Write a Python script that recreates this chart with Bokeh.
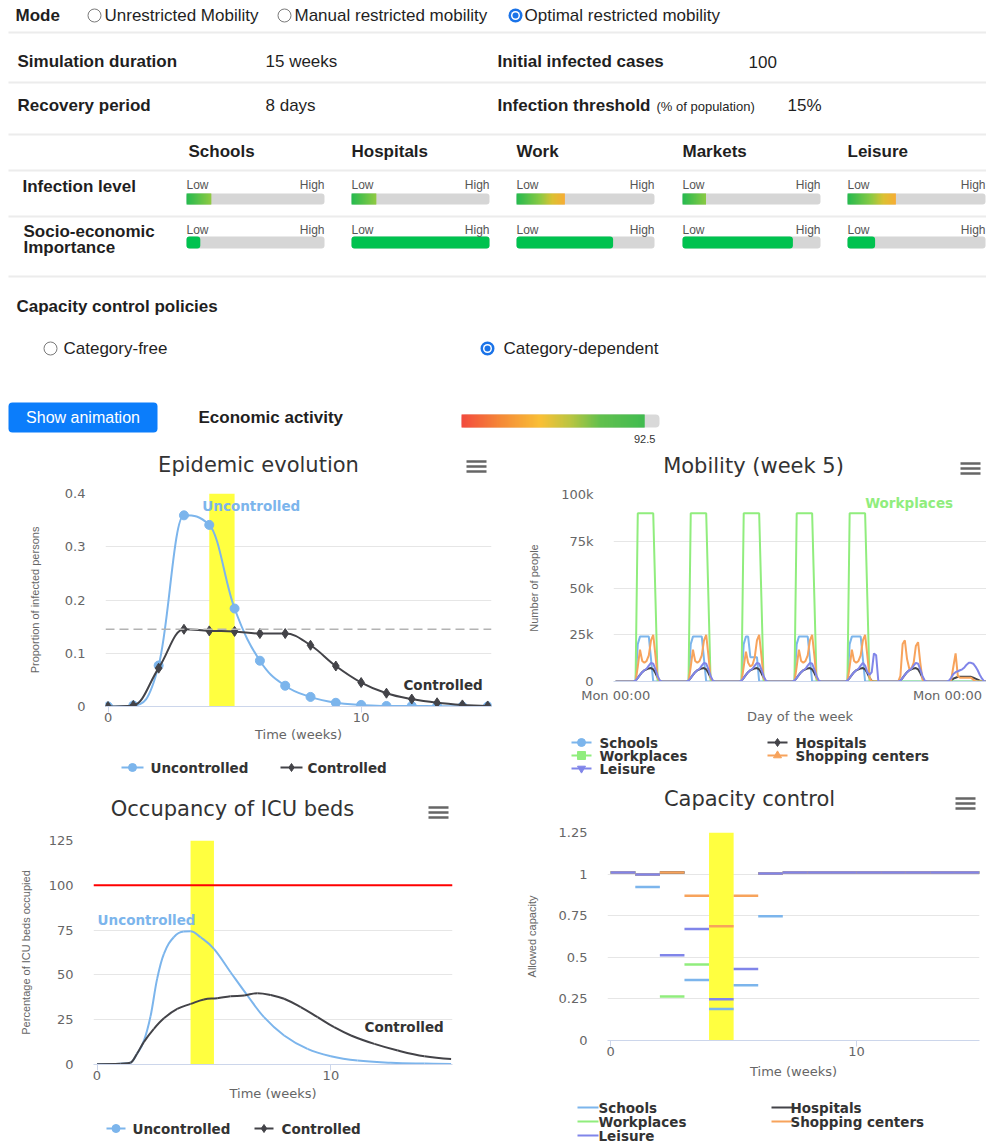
import numpy as np
from bokeh.plotting import figure
from bokeh.models import (Range1d, FixedTicker, BoxAnnotation, Span, ColumnDataSource)
from bokeh.layouts import column, row
from bokeh.embed import file_html
from bokeh.resources import INLINE
from bokeh.core.properties import value

# ======================= DATA =======================
mode_labels = ["Unrestricted Mobility", "Manual restricted mobility", "Optimal restricted mobility"]
mode_selected = 2
setting_labels = ["Simulation duration", "Initial infected cases", "Recovery period", "Infection threshold"]
setting_values = ["15 weeks", "100", "8 days", "15%"]
threshold_note = "(% of population)"
categories = ["Schools", "Hospitals", "Work", "Markets", "Leisure"]
row_labels = ["Infection level", "Socio-economic", "Importance"]
infection_level = [0.18, 0.18, 0.35, 0.17, 0.35]
socio_economic_importance = [0.10, 1.00, 0.70, 0.80, 0.20]
policy_title = "Capacity control policies"
policy_labels = ["Category-free", "Category-dependent"]
policy_selected = 1
button_label = "Show animation"
economic_label = "Economic activity"
economic_activity = 92.5

current_week = 5
infection_threshold = 0.145
icu_capacity = 100

# Epidemic evolution (weekly)
weeks = list(range(16))
infected_uncontrolled = [0, 0.002, 0.077, 0.359, 0.341, 0.184, 0.086, 0.039, 0.018, 0.007,
                         0.003, 0.001, 0.001, 0.0005, 0.0003, 0.0002]
infected_controlled = [0, 0.002, 0.072, 0.145, 0.142, 0.141, 0.137, 0.137, 0.115, 0.076,
                       0.045, 0.025, 0.014, 0.007, 0.003, 0.001]
week_x_ticks = [0, 10]
week_x_labels = ["0", "10"]
epi_y_ticks = [0, 0.1, 0.2, 0.3, 0.4]
epi_y_labels = ["0", "0.1", "0.2", "0.3", "0.4"]

# ICU occupancy (%)
icu_unc_weeks = [0, 1.0, 1.43, 1.71, 2.0, 2.29, 2.57, 2.86, 3.28, 3.71, 4.0, 4.43, 5.0,
                 5.71, 6.43, 7.14, 8.0, 9.0, 10.0, 11.14, 12.57, 14.0, 15.14]
icu_uncontrolled = [0.2, 0.4, 1.0, 6.0, 13.0, 27.0, 47.8, 61.8, 71.0, 74.2, 74.4, 71.0, 64.5,
                    51.5, 38.5, 26.4, 16.2, 8.7, 4.6, 2.2, 1.0, 0.5, 0.3]
icu_con_weeks = [0, 1.0, 1.43, 1.71, 2.0, 2.43, 2.86, 3.43, 4.0, 4.57, 5.14, 5.71, 6.29,
                 6.86, 7.43, 8.0, 8.71, 9.43, 10.14, 10.86, 11.86, 12.86, 14.0, 15.14]
icu_controlled = [0.2, 0.4, 1.0, 6.0, 12.5, 19.9, 25.8, 31.0, 33.8, 36.3, 37.0, 38.1, 38.5,
                  39.8, 38.8, 36.7, 32.0, 26.4, 20.8, 16.2, 11.5, 7.8, 4.6, 3.1]
icu_y_ticks = [0, 25, 50, 75, 100, 125]
icu_y_labels = ["0", "25", "50", "75", "100", "125"]

# Mobility week 5 (hourly, Mon 00:00 .. next Mon 00:00)
sch_weekday = [0, 0, 0, 0, 0, 0, 0, 0, 0, 0, 20000, 24000, 24000, 24000, 24000, 24000, 12000,
               0, 0, 0, 0, 0, 0, 0]
sch_wed = [0, 0, 0, 0, 0, 0, 0, 0, 0, 0, 20000, 24000, 24000, 13000, 13000, 13000, 13000,
           0, 0, 0, 0, 0, 0, 0]
sch_weekend = [0] * 24
work_weekday = [0, 0, 0, 0, 0, 0, 0, 0, 0, 0, 90000, 90000, 90000, 90000, 90000, 90000, 90000,
                90000, 45000, 0, 0, 0, 0, 0]
work_weekend = [0] * 24
shop_weekday = [0, 0, 0, 0, 0, 0, 0, 0, 0, 0, 8000, 17000, 11000, 10000, 11000, 14000, 22000,
                25000, 14000, 2000, 0, 0, 0, 0]
shop_wed = [0, 0, 0, 0, 0, 0, 0, 0, 0, 0, 8000, 16000, 10000, 8000, 9000, 13000, 22000,
            25000, 14000, 2000, 0, 0, 0, 0]
shop_sat = [0, 0, 0, 0, 0, 0, 0, 0, 0, 3000, 20000, 22000, 12000, 7000, 7000, 10000, 19000,
            21000, 10000, 1000, 0, 0, 0, 0]
shop_sun = [0, 0, 0, 0, 0, 0, 0, 0, 1000, 8000, 15000, 3000, 2000, 2000, 2000, 2000, 2000,
            2000, 1000, 0, 0, 0, 0, 0]
hosp_weekday = [0, 0, 0, 0, 0, 0, 0, 0, 0, 500, 2000, 3500, 5000, 6000, 6500, 7000, 7200,
                6500, 4500, 2000, 300, 0, 0, 0]
hosp_sun = [0, 0, 0, 0, 0, 0, 0, 0, 500, 1500, 2000, 2500, 2500, 2500, 2500, 2500, 2500,
            2500, 2000, 1500, 1000, 500, 0, 0]
leis_weekday = [0, 0, 0, 0, 0, 0, 0, 0, 0, 500, 2000, 3500, 5000, 6000, 6800, 8500, 10000,
                9500, 6500, 3000, 500, 0, 0, 0]
leis_fri = [0, 0, 0, 0, 0, 0, 0, 0, 0, 500, 2000, 3500, 5000, 6000, 6800, 8500, 10000,
            8500, 5000, 3500, 5000, 15000, 14000, 0]
leis_sun = [0, 0, 0, 0, 0, 0, 0, 500, 2000, 4000, 5000, 5500, 6000, 6500, 7500, 9000, 10000,
            10000, 9500, 8000, 6000, 3500, 1500, 0]

mob_schools = sch_weekday + sch_weekday + sch_wed + sch_weekday + sch_weekday + sch_weekend + sch_weekend + [0]
mob_hospitals = hosp_weekday * 5 + hosp_weekday + hosp_sun + [0]
mob_workplaces = work_weekday * 5 + work_weekend + work_weekend + [0]
mob_shopping = shop_weekday + shop_weekday + shop_wed + shop_weekday + shop_weekday + shop_sat + shop_sun + [0]
mob_leisure = leis_weekday * 4 + leis_fri + leis_weekday + leis_sun + [0]
mob_hours = list(range(len(mob_schools)))
mob_x_ticks = [0, 168]
mob_x_labels = ["Mon 00:00", "Mon 00:00"]
mob_y_ticks = [0, 25000, 50000, 75000, 100000]
mob_y_labels = ["0", "25k", "50k", "75k", "100k"]

# Capacity control (weekly allowed capacity; nan = not visible in the chart)
nan = float("nan")
cap_weeks = list(range(15))
cap_schools = [1.01, 0.922, 1.01, 0.364, 0.19, 0.332, 0.746, 1.01, 1.01, 1.01, 1.01, 1.01, 1.01, 1.01, 1.01]
cap_hospitals = [1.01, 0.997, 1.01, nan, nan, nan, 1.003, 1.01, 1.01, 1.01, 1.01, 1.01, 1.01, 1.01, 1.01]
cap_workplaces = [1.01, 0.997, 0.264, 0.456, nan, nan, 1.003, 1.01, 1.01, 1.01, 1.01, 1.01, 1.01, 1.01, 1.01]
cap_shopping = [1.01, 0.997, 1.01, 0.87, 0.686, 0.87, 1.003, 1.01, 1.01, 1.01, 1.01, 1.01, 1.01, 1.01, 1.01]
cap_leisure = [1.01, 0.997, 0.512, 0.67, 0.248, 0.43, 1.003, 1.01, 1.01, 1.01, 1.01, 1.01, 1.01, 1.01, 1.01]
cap_y_ticks = [0, 0.25, 0.5, 0.75, 1, 1.25]
cap_y_labels = ["0", "0.25", "0.5", "0.75", "1", "1.25"]

series_names = ["Schools", "Hospitals", "Workplaces", "Shopping centers", "Leisure"]
series_colors = ["#7cb5ec", "#434348", "#90ed7d", "#f7a35c", "#8085e9"]
series_markers = ["circle", "diamond", "square", "triangle", "inverted_triangle"]
outcome_names = ["Uncontrolled", "Controlled"]
outcome_colors = ["#7cb5ec", "#434348"]
outcome_markers = ["circle", "diamond"]

# ======================= HELPERS =======================
HFONT = "Liberation Sans"
CFONT = "DejaVu Sans"
BAND = "#ffff40"


def hex2rgb(h):
    h = h.lstrip("#")
    return tuple(int(h[i:i + 2], 16) for i in (0, 2, 4))


def grad_color(stops, t):
    for (t0, c0), (t1, c1) in zip(stops[:-1], stops[1:]):
        if t <= t1:
            f = 0 if t1 == t0 else (t - t0) / (t1 - t0)
            a, b = hex2rgb(c0), hex2rgb(c1)
            return "#%02x%02x%02x" % tuple(int(round(a[i] + (b[i] - a[i]) * f)) for i in range(3))
    return stops[-1][1]


def rquad(p, radius=0, **kw):
    try:
        return p.quad(border_radius=radius, **kw)
    except Exception:
        return p.quad(**kw)


def spline_segments(xs, ys, smoothing=1.5):
    n = len(xs)
    lc, rc = [], []
    for i in range(n):
        x, y = xs[i], ys[i]
        if i == 0 or i == n - 1:
            lc.append((x, y)); rc.append((x, y)); continue
        lx, ly, nx, ny = xs[i - 1], ys[i - 1], xs[i + 1], ys[i + 1]
        d = smoothing + 1
        lcx, lcy = (smoothing * x + lx) / d, (smoothing * y + ly) / d
        rcx, rcy = (smoothing * x + nx) / d, (smoothing * y + ny) / d
        if rcx != lcx:
            corr = (rcy - lcy) * (rcx - x) / (rcx - lcx) + y - rcy
            lcy += corr; rcy += corr
        if lcy > ly and lcy > y:
            lcy = max(ly, y); rcy = 2 * y - lcy
        elif lcy < ly and lcy < y:
            lcy = min(ly, y); rcy = 2 * y - lcy
        if rcy > ny and rcy > y:
            rcy = max(ny, y); lcy = 2 * y - rcy
        elif rcy < ny and rcy < y:
            rcy = min(ny, y); lcy = 2 * y - rcy
        lc.append((lcx, lcy)); rc.append((rcx, rcy))
    return dict(x0=xs[:-1], y0=ys[:-1], x1=xs[1:], y1=ys[1:],
                cx0=[c[0] for c in rc[:-1]], cy0=[c[1] for c in rc[:-1]],
                cx1=[c[0] for c in lc[1:]], cy1=[c[1] for c in lc[1:]])


def pix_fig(x0, y0, w, h):
    """A figure whose data coordinates are page pixels (y downwards)."""
    p = figure(width=w, height=h, x_range=Range1d(x0, x0 + w), y_range=Range1d(y0 + h, y0),
               output_backend="svg", toolbar_location=None, min_border=0,
               x_axis_location=None, y_axis_location=None)
    p.grid.visible = False
    p.outline_line_color = None
    return p


def ptext(p, xs, ys, texts, size="17px", bold=False, color="#1f1f1f", align="left", font=HFONT):
    p.text(x=xs, y=ys, text=texts, text_font=value(font), text_font_size=size,
           text_font_style="bold" if bold else "normal", text_color=color,
           text_align=align, text_baseline="middle")


# ======================= HEADER =======================
hdr = pix_fig(0, 0, 986, 450)


def radios(xs, ys, sel):
    un = [i for i in range(len(xs)) if i != sel]
    hdr.scatter([xs[i] for i in un], [ys[i] for i in un], size=13, marker="circle",
                fill_color="white", line_color="#7a7a7a", line_width=1)
    hdr.scatter([xs[sel]], [ys[sel]], size=14, fill_color="#1a73e8", line_color=None)
    hdr.scatter([xs[sel]], [ys[sel]], size=9, fill_color="white", line_color=None)
    hdr.scatter([xs[sel]], [ys[sel]], size=6, fill_color="#1a73e8", line_color=None)


rule_y = [32, 82, 134, 170, 216, 276]
hdr.segment(x0=[8] * len(rule_y), x1=[986] * len(rule_y), y0=rule_y, y1=rule_y,
            line_color="#ececec", line_width=2)

ptext(hdr, [15], [15], ["Mode"], bold=True)
radios([94, 284, 515], [15, 15, 15], mode_selected)
ptext(hdr, [104, 294, 524], [15, 15, 15], mode_labels)

ptext(hdr, [17, 497, 17, 497], [61, 61, 105, 105], setting_labels, bold=True)
ptext(hdr, [265, 748, 265, 787], [61, 61, 105, 105], setting_values)
ptext(hdr, [656], [106], [threshold_note], size="13px")

col_x = [188, 351, 516, 682, 847]
ptext(hdr, col_x, [151] * 5, categories, bold=True)
ptext(hdr, [22, 23, 23], [186, 231, 247], row_labels, bold=True)

bar_x0 = [186, 351, 516, 682, 847]
bar_w = 138
inf_stops = [(0.0, "#1bb848"), (0.17, "#86c93c"), (0.26, "#dcc02a"), (0.35, "#f9aa2c"), (1.0, "#f44336")]
for row_i, (vals, top, bot, lowy) in enumerate([(infection_level, 193, 204, 184),
                                               (socio_economic_importance, 236, 248, 229)]):
    rquad(hdr, 3, left=bar_x0, right=[x + bar_w for x in bar_x0], top=[top] * 5, bottom=[bot] * 5,
          fill_color="#d6d6d6", line_color=None)
    for x0, v in zip(bar_x0, vals):
        fill_px = v * bar_w
        if row_i == 0:
            k = np.arange(0, fill_px, 1.0)
            lefts = x0 + k
            rights = np.minimum(lefts + 1.4, x0 + fill_px)
            cols = [grad_color(inf_stops, (kk + 0.5) / bar_w) for kk in k]
            hdr.quad(left=lefts, right=rights, top=top, bottom=bot, fill_color=cols, line_color=None)
        else:
            rquad(hdr, 3, left=[x0], right=[x0 + fill_px], top=[top], bottom=[bot],
                  fill_color="#00c24f", line_color=None)
    ptext(hdr, bar_x0, [lowy] * 5, ["Low"] * 5, size="12px", color="#555555")
    ptext(hdr, [x + bar_w for x in bar_x0], [lowy] * 5, ["High"] * 5, size="12px", color="#555555", align="right")

ptext(hdr, [16], [306], [policy_title], bold=True)
radios([50, 487], [348, 348], policy_selected)
ptext(hdr, [63, 503], [348, 348], policy_labels)

rquad(hdr, 4, left=[8], right=[157], top=[402], bottom=[432], fill_color="#0b7dfb", line_color=None)
ptext(hdr, [82.5], [417], [button_label], size="16px", color="white", align="center")
ptext(hdr, [198], [417], [economic_label], bold=True)

eco_x0, eco_w = 461, 198
eco_stops = [(0.0, "#f44336"), (0.2, "#f7862f"), (0.4, "#fbbf2e"), (0.55, "#b8c43a"),
             (0.7, "#5cbf47"), (1.0, "#2db84a")]
rquad(hdr, 4, left=[eco_x0], right=[eco_x0 + eco_w], top=[414], bottom=[427],
      fill_color="#d9d9d9", line_color=None)
eco_fill = economic_activity / 100 * eco_w
k = np.arange(0, eco_fill, 1.0)
hdr.quad(left=eco_x0 + k, right=np.minimum(eco_x0 + k + 1.4, eco_x0 + eco_fill), top=414, bottom=427,
         fill_color=[grad_color(eco_stops, (kk + 0.5) / eco_w) for kk in k], line_color=None)
ptext(hdr, [eco_x0 + eco_fill], [438], [f"{economic_activity}"], size="11px", color="#333333", align="center")


# ======================= CHART HELPERS =======================
def make_chart(fig_x, fig_y, width, height, frame, xr, yr):
    l, r, t, b = frame
    p = figure(width=width, height=height, x_range=Range1d(*xr), y_range=Range1d(*yr),
               output_backend="svg", toolbar_location=None,
               min_border_left=int(round(l - fig_x)), min_border_right=int(round(fig_x + width - r)),
               min_border_top=int(round(t - fig_y)), min_border_bottom=int(round(fig_y + height - b)))
    p.outline_line_color = None
    p.xgrid.grid_line_color = None
    p.ygrid.grid_line_color = "#e6e6e6"
    return p


def style_axes(p, xt, xl, yt, yl, xlabel, ylabel, ylab_standoff, xlab_standoff, x_anchor=None):
    ty = FixedTicker(ticks=yt)
    p.yaxis.ticker = ty
    p.ygrid.ticker = ty
    p.yaxis.major_label_overrides = {v: s for v, s in zip(yt, yl)}
    anchors = xt if x_anchor is None else x_anchor
    p.xaxis.ticker = FixedTicker(ticks=anchors)
    p.xaxis.major_label_overrides = {v: s for v, s in zip(anchors, xl)}
    for ax in (p.xaxis, p.yaxis):
        ax.major_label_text_font = CFONT
        ax.major_label_text_font_size = "13px"
        ax.major_label_text_color = "#666666"
        ax.minor_tick_line_color = None
        ax.axis_label_text_font_style = "normal"
        ax.axis_label_text_color = "#666666"
    p.yaxis.axis_line_color = None
    p.yaxis.major_tick_line_color = None
    p.yaxis.major_tick_out = 0
    p.yaxis.major_tick_in = 0
    p.yaxis.major_label_standoff = 20
    p.yaxis.axis_label = ylabel
    p.yaxis.axis_label_text_font = HFONT
    p.yaxis.axis_label_text_font_size = "11px"
    p.yaxis.axis_label_standoff = ylab_standoff
    p.xaxis.axis_line_color = "#ccd6eb"
    p.xaxis.major_tick_line_color = "#ccd6eb" if x_anchor is None else None
    p.xaxis.major_tick_out = 6
    p.xaxis.major_tick_in = 0
    p.xaxis.major_label_standoff = 0
    p.xaxis.axis_label = xlabel
    p.xaxis.axis_label_text_font = CFONT
    p.xaxis.axis_label_text_font_size = "13px"
    p.xaxis.axis_label_standoff = xlab_standoff


def title_strip(x0, y0, w, h, title, tx, ty, mx, my):
    s = pix_fig(x0, y0, w, h)
    ptext(s, [tx], [ty], [title], size="21px", color="#333333", align="center", font=CFONT)
    # export-menu icon: three short horizontal bars
    s.segment(x0=[mx - 10] * 3, x1=[mx + 10] * 3, y0=[my - 5, my, my + 5], y1=[my - 5, my, my + 5],
              line_color="#666666", line_width=2.5)
    return s


def legend_strip(x0, y0, w, h, names, colors, markers, sym_x, text_x, ys, sym_w):
    s = pix_fig(x0, y0, w, h)
    for name, col, mk, sx, tx, yy in zip(names, colors, markers, sym_x, text_x, ys):
        s.segment(x0=[sx], x1=[sx + sym_w], y0=[yy], y1=[yy], line_color=col, line_width=2)
        if mk is not None:
            s.scatter([sx + sym_w / 2], [yy], marker=mk, size=8, fill_color=col, line_color=col)
        ptext(s, [tx], [yy], [name], size="13.5px", bold=True, color="#333333", font=CFONT)
    return s


def data_label(p, x, y, text, color, dx, dy):
    p.text(x=[x], y=[y], text=[text], x_offset=dx, y_offset=dy, text_align="center",
           text_baseline="middle", text_font=value(CFONT), text_font_size="13.5px",
           text_font_style="bold", text_color=color)


def iso(p):
    # own container, so that Bokeh does not align its frame with sibling plots
    return column(p, spacing=0)


band_left = current_week - 1
band_right = current_week

# ======================= EPIDEMIC EVOLUTION =======================
epi_title = title_strip(0, 450, 500, 36, "Epidemic evolution", 258, 464, 476, 466)
epi = make_chart(0, 486, 500, 266, (105, 491, 493, 706), (-0.1, 15.15), (0, 0.4))
style_axes(epi, week_x_ticks, week_x_labels, epi_y_ticks, epi_y_labels,
           "Time (weeks)", "Proportion of infected persons", 21, 2)
epi.add_layout(BoxAnnotation(left=band_left, right=band_right, fill_color=BAND, fill_alpha=1,
                             line_color=None, level="underlay"))
epi.add_layout(Span(location=infection_threshold, dimension="width", line_color="#b3b3b3",
                    line_dash="9 5", line_width=1.5))
for vals, col, mk, sz in [(infected_uncontrolled, outcome_colors[0], outcome_markers[0], 9),
                          (infected_controlled, outcome_colors[1], outcome_markers[1], 10)]:
    seg = spline_segments(weeks, vals)
    epi.bezier(source=ColumnDataSource(seg), x0="x0", y0="y0", x1="x1", y1="y1",
               cx0="cx0", cy0="cy0", cx1="cx1", cy1="cy1", line_color=col, line_width=2)
    epi.scatter(weeks, vals, marker=mk, size=sz, fill_color=col, line_color=col)
data_label(epi, weeks[4], infected_uncontrolled[4], "Uncontrolled", "#7cb5ec", 42, -19)
data_label(epi, weeks[13], infected_controlled[13], "Controlled", "#333333", 6, -18)
epi_leg = legend_strip(0, 752, 500, 28, outcome_names, outcome_colors, outcome_markers,
                       [121, 280], [150, 307], [767, 767], 22)

# ======================= MOBILITY =======================
mob_title = title_strip(500, 450, 486, 36, "Mobility (week 5)", 753, 465, 970, 468)
mob = make_chart(500, 486, 486, 242, (613, 986, 494, 681), (-1, 168), (0, 100000))
# the end-of-week label is justified inside the plot, as in the original chart
mob_label_anchor = [mob_x_ticks[0], mob_x_ticks[1] - 17.7]
style_axes(mob, mob_x_ticks, mob_x_labels, mob_y_ticks, mob_y_labels,
           "Day of the week", "Number of people", 18, 3, x_anchor=mob_label_anchor)
mob_series = [mob_schools, mob_hospitals, mob_workplaces, mob_shopping, mob_leisure]
for col, vals in zip(series_colors, mob_series):
    mob.line(mob_hours, vals, line_color=col, line_width=2)
data_label(mob, mob_hours[96 + 17], mob_workplaces[96 + 17], "Workplaces", "#90ed7d", 44, -10)
mob_leg = legend_strip(500, 728, 486, 52, series_names, series_colors, series_markers,
                       [571, 767, 571, 767, 571], [599, 795, 599, 795, 599],
                       [742, 742, 755, 755, 768], 20)

# ======================= ICU =======================
icu_title = title_strip(0, 780, 500, 46, "Occupancy of ICU beds", 232, 808, 438, 812)
icu = make_chart(0, 826, 500, 278, (93, 452, 840, 1064), (-0.15, 15.2), (0, 125))
style_axes(icu, week_x_ticks, week_x_labels, icu_y_ticks, icu_y_labels,
           "Time (weeks)", "Percentage of ICU beds occupied", 14, 3)
icu.add_layout(BoxAnnotation(left=band_left, right=band_right, fill_color=BAND, fill_alpha=1,
                             line_color=None, level="underlay"))
icu.add_layout(Span(location=icu_capacity, dimension="width", line_color="#ff0000", line_width=2))
for xs, vals, col in [(icu_unc_weeks, icu_uncontrolled, outcome_colors[0]),
                      (icu_con_weeks, icu_controlled, outcome_colors[1])]:
    seg = spline_segments(xs, vals)
    icu.bezier(source=ColumnDataSource(seg), x0="x0", y0="y0", x1="x1", y1="y1",
               cx0="cx0", cy0="cy0", cx1="cx1", cy1="cy1", line_color=col, line_width=2)
data_label(icu, icu_unc_weeks[10], icu_uncontrolled[10], "Uncontrolled", "#7cb5ec", -44, -11)
data_label(icu, icu_con_weeks[-1], icu_controlled[-1], "Controlled", "#333333", -47, -32)
icu_leg = legend_strip(0, 1104, 500, 39, outcome_names, outcome_colors, outcome_markers,
                       [106, 254], [132, 281], [1128, 1128], 19)

# ======================= CAPACITY CONTROL =======================
cap_title = title_strip(500, 780, 486, 38, "Capacity control", 749, 798, 965, 803)
cap = make_chart(500, 818, 486, 266, (607, 979, 832, 1040), (-0.13, 15.0), (0, 1.25))
style_axes(cap, week_x_ticks, week_x_labels, cap_y_ticks, cap_y_labels,
           "Time (weeks)", "Allowed capacity", 18, 5)
cap.add_layout(BoxAnnotation(left=band_left, right=band_right, fill_color=BAND, fill_alpha=1,
                             line_color=None, level="underlay"))
cap_series = [cap_schools, cap_hospitals, cap_workplaces, cap_shopping, cap_leisure]
cap_week_end = [w + 1 for w in cap_weeks]
for col, vals in zip(series_colors, cap_series):
    cap.segment(x0=cap_weeks, x1=cap_week_end, y0=vals, y1=vals, line_color=col, line_width=2.5)
cap_leg = legend_strip(500, 1084, 486, 59, series_names, series_colors, [None] * 5,
                       [577, 771, 577, 771, 577], [598, 790, 598, 790, 598],
                       [1107, 1107, 1121, 1121, 1135], 21)

left_col = column(*[iso(p) for p in (epi_title, epi, epi_leg, icu_title, icu, icu_leg)], spacing=0)
right_col = column(*[iso(p) for p in (mob_title, mob, mob_leg, cap_title, cap, cap_leg)], spacing=0)
layout = column(iso(hdr), row(left_col, right_col, spacing=0), spacing=0)
open("out.html", "w").write(file_html(layout, INLINE))
